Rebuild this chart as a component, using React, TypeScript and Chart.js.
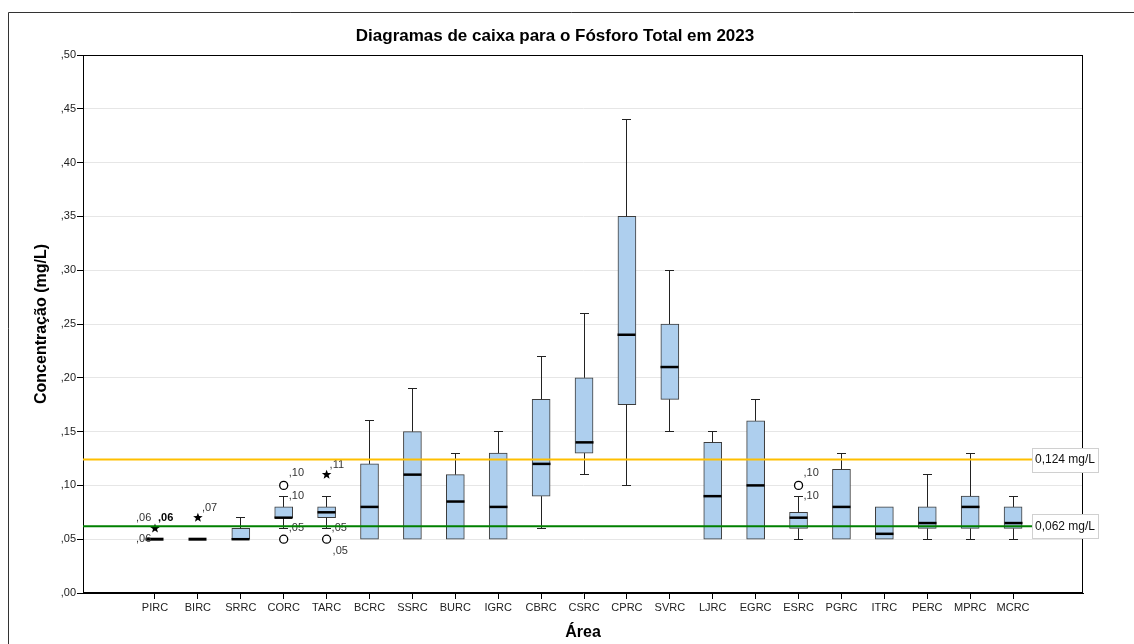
import React, { useEffect, useRef } from 'react';
import { Chart, registerables } from 'chart.js';

Chart.register(...registerables);

// ---------- data ----------
const categories = ['PIRC', 'BIRC', 'SRRC', 'CORC', 'TARC', 'BCRC', 'SSRC', 'BURC', 'IGRC', 'CBRC', 'CSRC', 'CPRC', 'SVRC', 'LJRC', 'EGRC', 'ESRC', 'PGRC', 'ITRC', 'PERC', 'MPRC', 'MCRC'];
const q1 = [0.05, 0.05, 0.05, 0.07, 0.07, 0.05, 0.05, 0.05, 0.05, 0.09, 0.13, 0.175, 0.18, 0.05, 0.05, 0.06, 0.05, 0.05, 0.06, 0.06, 0.06];
const median = [0.05, 0.05, 0.05, 0.07, 0.075, 0.08, 0.11, 0.085, 0.08, 0.12, 0.14, 0.24, 0.21, 0.09, 0.10, 0.07, 0.08, 0.055, 0.065, 0.08, 0.065];
const q3 = [0.05, 0.05, 0.06, 0.08, 0.08, 0.12, 0.15, 0.11, 0.13, 0.18, 0.20, 0.35, 0.25, 0.14, 0.16, 0.075, 0.115, 0.08, 0.08, 0.09, 0.08];
const whiskerLow: (number | null)[] = [null, null, null, 0.06, 0.06, null, null, null, null, 0.06, 0.11, 0.10, 0.15, null, null, 0.05, null, null, 0.05, 0.05, 0.05];
const whiskerHigh: (number | null)[] = [null, null, 0.07, 0.09, 0.09, 0.16, 0.19, 0.13, 0.15, 0.22, 0.26, 0.44, 0.30, 0.15, 0.18, 0.09, 0.13, null, 0.11, 0.13, 0.09];

const outlierCategory = ['PIRC', 'BIRC', 'CORC', 'CORC', 'TARC', 'TARC', 'ESRC'];
const outlierValue = [0.06, 0.07, 0.10, 0.05, 0.11, 0.05, 0.10];
const outlierShape = ['star', 'star', 'circle', 'circle', 'star', 'circle', 'circle'];
const outlierLabels = [[',06', ',06', ',06'], [',07'], [',10', ',10'], [',05'], [',11'], [',05', ',05'], [',10', ',10']];

const referenceValues = [0.124, 0.062];
const referenceLabels = ['0,124 mg/L', '0,062 mg/L'];

const yTicks = [0, 0.05, 0.1, 0.15, 0.2, 0.25, 0.3, 0.35, 0.4, 0.45, 0.5];

const titleText = 'Diagramas de caixa para o Fósforo Total em 2023';
const xTitle = 'Área';
const yTitle = 'Concentração (mg/L)';

// ---------- styles ----------
const FONT = '"Liberation Sans", Arial, Helvetica, sans-serif';
const BOX_FILL = '#aecfee';
const BOX_STROKE = '#3c3c3c';
const REF_COLORS = ['#ffbf00', '#008000'];
const LABEL_OFFSETS: [number, number, boolean][][] = [
  [[-19, -10, false], [3, -10, true], [-19, 11, false]],
  [[4, -10, false]],
  [[5, -12, false], [5, 11, false]],
  [[5, -11, false]],
  [[3, -10, false]],
  [[5, -11, false], [6, 12, false]],
  [[5, -12, false], [5, 11, false]],
];

const align = (p: number) => Math.round(p - 0.5) + 0.5;

function drawStar(ctx: CanvasRenderingContext2D, x: number, y: number, r: number) {
  ctx.beginPath();
  for (let k = 0; k < 10; k++) {
    const rad = k % 2 === 0 ? r : r * 0.42;
    const a = -Math.PI / 2 + (k * Math.PI) / 5;
    const px = x + rad * Math.cos(a);
    const py = y + rad * Math.sin(a);
    if (k === 0) ctx.moveTo(px, py); else ctx.lineTo(px, py);
  }
  ctx.closePath();
  ctx.fillStyle = '#000';
  ctx.fill();
}

export default function App() {
  const ref = useRef<HTMLCanvasElement | null>(null);

  useEffect(() => {
    const canvas = ref.current;
    if (!canvas) return;

    const boxPlugin = {
      id: 'boxExtras',
      beforeDatasetsDraw(chart: any) {
        const ctx: CanvasRenderingContext2D = chart.ctx;
        const a = chart.chartArea;
        const xs = chart.scales.x;
        ctx.save();
        ctx.strokeStyle = '#000';
        ctx.lineWidth = 1;
        ctx.strokeRect(Math.round(a.left) + 0.5, Math.round(a.top) + 0.5, Math.round(a.right - a.left) - 1, Math.round(a.bottom - a.top) - 1);
        // category tick marks
        ctx.beginPath();
        categories.forEach((_, i) => {
          const x = align(xs.getPixelForValue(i));
          ctx.moveTo(x, Math.round(a.bottom));
          ctx.lineTo(x, Math.round(a.bottom) + 6);
        });
        ctx.stroke();
        ctx.restore();
      },
      afterDatasetsDraw(chart: any) {
        const ctx: CanvasRenderingContext2D = chart.ctx;
        const xs = chart.scales.x;
        const ys = chart.scales.y;
        const area = chart.chartArea;
        ctx.save();
        const half = 9;
        const cap = 4.5;
        categories.forEach((_, i) => {
          const cx = align(xs.getPixelForValue(i));
          ctx.strokeStyle = '#222';
          ctx.lineWidth = 1;
          const hi = whiskerHigh[i];
          if (hi !== null) {
            const y0 = ys.getPixelForValue(q3[i]);
            const y1 = align(ys.getPixelForValue(hi));
            ctx.beginPath();
            ctx.moveTo(cx, y0);
            ctx.lineTo(cx, y1);
            ctx.moveTo(cx - cap, y1);
            ctx.lineTo(cx + cap, y1);
            ctx.stroke();
          }
          const lo = whiskerLow[i];
          if (lo !== null) {
            const y0 = ys.getPixelForValue(q1[i]);
            const y1 = align(ys.getPixelForValue(lo));
            ctx.beginPath();
            ctx.moveTo(cx, y0);
            ctx.lineTo(cx, y1);
            ctx.moveTo(cx - cap, y1);
            ctx.lineTo(cx + cap, y1);
            ctx.stroke();
          }
          // median
          const my = ys.getPixelForValue(median[i]);
          ctx.strokeStyle = '#000';
          ctx.lineWidth = q1[i] === q3[i] ? 3 : 2.5;
          ctx.beginPath();
          ctx.moveTo(cx - half, my);
          ctx.lineTo(cx + half, my);
          ctx.stroke();
        });

        // outliers
        ctx.textBaseline = 'middle';
        ctx.textAlign = 'left';
        outlierCategory.forEach((cat, j) => {
          const idx = categories.indexOf(cat);
          const px = xs.getPixelForValue(idx);
          const py = ys.getPixelForValue(outlierValue[j]);
          if (outlierShape[j] === 'star') {
            drawStar(ctx, px, py, 5);
          } else {
            ctx.beginPath();
            ctx.arc(px, py, 4, 0, Math.PI * 2);
            ctx.fillStyle = '#fff';
            ctx.fill();
            ctx.strokeStyle = '#000';
            ctx.lineWidth = 1.3;
            ctx.stroke();
          }
          outlierLabels[j].forEach((t, k) => {
            const [dx, dy, bold] = LABEL_OFFSETS[j][k];
            ctx.font = `${bold ? 'bold ' : ''}11px ${FONT}`;
            ctx.fillStyle = bold ? '#000' : '#333';
            ctx.fillText(t, px + dx, py + dy);
          });
        });

        // reference lines
        referenceValues.forEach((v, j) => {
          const y = ys.getPixelForValue(v);
          ctx.font = `12px ${FONT}`;
          const tw = ctx.measureText(referenceLabels[j]).width;
          const bw = Math.round(tw + 6);
          const bx = 1032;
          ctx.strokeStyle = REF_COLORS[j];
          ctx.lineWidth = 2;
          ctx.beginPath();
          ctx.moveTo(area.left, y);
          ctx.lineTo(bx, y);
          ctx.stroke();
          ctx.fillStyle = '#fff';
          ctx.fillRect(bx + 0.5, Math.round(y - 12) + 0.5, bw, 24);
          ctx.strokeStyle = '#d0d0d0';
          ctx.lineWidth = 1;
          ctx.strokeRect(bx + 0.5, Math.round(y - 12) + 0.5, bw, 24);
          ctx.fillStyle = '#111';
          ctx.textAlign = 'left';
          ctx.fillText(referenceLabels[j], bx + 3, y + 0.5);
        });

        ctx.restore();
      },
      afterDraw(chart: any) {
        const ctx: CanvasRenderingContext2D = chart.ctx;
        ctx.save();
        ctx.font = `bold 17px ${FONT}`;
        ctx.fillStyle = '#000';
        ctx.textAlign = 'center';
        ctx.textBaseline = 'middle';
        ctx.fillText(titleText, 555, 36);
        // outer frame
        ctx.strokeStyle = '#333';
        ctx.lineWidth = 1;
        ctx.beginPath();
        ctx.moveTo(8.5, 650);
        ctx.lineTo(8.5, 12.5);
        ctx.lineTo(1140, 12.5);
        ctx.stroke();
        ctx.restore();
      },
    };

    const boxIdx = categories.map((_, i) => i).filter((i) => q1[i] !== q3[i]);

    const chart = new Chart(canvas, {
      type: 'bar',
      data: {
        datasets: [
          {
            data: boxIdx.map((i) => ({ x: i, y: [q1[i], q3[i]] })) as any,
            backgroundColor: BOX_FILL,
            borderColor: BOX_STROKE,
            borderWidth: 1,
            borderSkipped: false,
            barThickness: 18,
          },
        ],
      },
      options: {
        responsive: false,
        devicePixelRatio: 1,
        animation: false,
        events: [],
        layout: { padding: { top: 55, right: 51, left: 0, bottom: 0 } },
        plugins: {
          legend: { display: false },
          tooltip: { enabled: false },
          title: { display: false },
        },
        scales: {
          x: {
            type: 'linear',
            offset: false,
            min: -1.678,
            max: 21.63,
            afterBuildTicks: (scale: any) => {
              scale.ticks = categories.map((_, i) => ({ value: i }));
            },
            afterFit: (scale: any) => {
              scale.height = 51;
            },
            ticks: {
              autoSkip: false,
              maxRotation: 0,
              minRotation: 0,
              padding: 2,
              color: '#222',
              font: { family: FONT, size: 11 },
              callback: (v: any) => categories[Math.round(Number(v))] ?? '',
            },
            grid: { offset: false, drawOnChartArea: false, tickLength: 6, tickColor: 'rgba(0,0,0,0)', color: 'rgba(0,0,0,0)' },
            border: { display: true, color: '#000', width: 1 },
            title: {
              display: true,
              text: xTitle,
              color: '#000',
              font: { family: FONT, size: 16, weight: 'bold' },
              padding: { top: 0, bottom: 1.5 },
            },
          },
          y: {
            type: 'linear',
            min: 0,
            max: 0.5,
            afterBuildTicks: (scale: any) => {
              scale.ticks = yTicks.map((v) => ({ value: v }));
            },
            afterFit: (scale: any) => {
              scale.width = 83;
            },
            ticks: {
              padding: 1,
              color: '#222',
              font: { family: FONT, size: 11 },
              callback: (v: any) => ',' + String(Math.round(Number(v) * 100)).padStart(2, '0'),
            },
            grid: {
              color: (c: any) => (c.tick && (c.tick.value === 0 || c.tick.value === 0.5) ? 'rgba(0,0,0,0)' : '#e6e6e6'),
              tickColor: '#000',
              tickLength: 6,
              lineWidth: 1,
            },
            border: { display: true, color: '#000', width: 1 },
            title: {
              display: true,
              text: yTitle,
              color: '#000',
              font: { family: FONT, size: 16, weight: 'bold' },
              padding: { top: 31.5, bottom: 0 },
            },
          },
        },
      },
      plugins: [boxPlugin],
    });

    return () => chart.destroy();
  }, []);

  return (
    <div style={{ position: 'fixed', left: 0, top: 0, width: 1134, height: 644, background: '#fff' }}>
      <canvas ref={ref} width={1134} height={644} style={{ display: 'block', width: 1134, height: 644 }} />
    </div>
  );
}
